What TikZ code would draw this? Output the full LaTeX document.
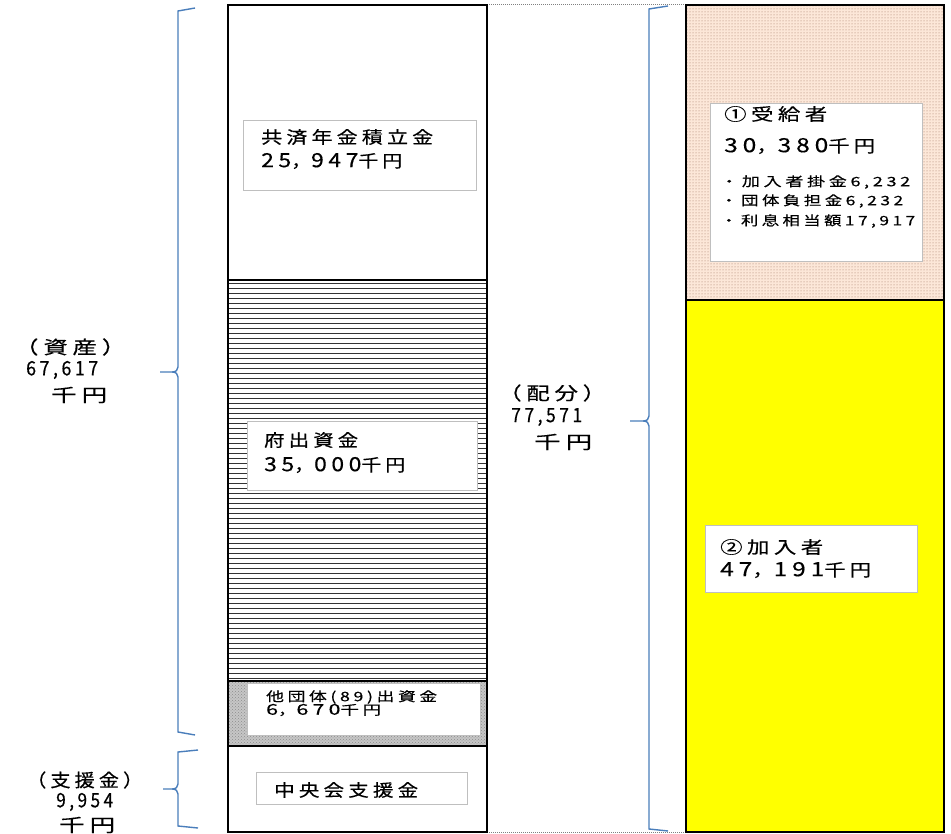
\documentclass[tikz,border=0pt]{standalone}
\usepackage{graphicx}
\usepackage{fontspec}
\setmainfont{Noto Sans CJK JP}
\newfontfamily\jp{Noto Sans CJK JP}[LetterSpace=20,FakeBold=0.4]
\usetikzlibrary{patterns}
\newcommand\myfit[2]{\resizebox{#1}{\height}{#2}}
\newcommand\dg[1]{\scalebox{1.15}{#1}}
\newcommand\dgl[1]{\scalebox{1.1}{#1}}
\definecolor{bracec}{RGB}{74,126,187}
\definecolor{peach}{RGB}{252,231,216}
\definecolor{dotc}{RGB}{160,115,95}
\definecolor{boxc}{RGB}{191,191,191}
\definecolor{yel}{RGB}{255,255,0}
\tikzset{
  colline/.style={draw=black, line width=2pt},
  tbox/.style={draw=boxc, fill=white, line width=1pt, anchor=north west, inner sep=0pt},
  txt/.style={anchor=west, inner sep=0pt, font=\jp\fontsize{17}{20}\selectfont},
  stxt/.style={anchor=west, inner sep=0pt, font=\jp\fontsize{13}{15}\selectfont},
  lbl/.style={anchor=west, inner sep=0pt, font=\jp\fontsize{18}{20}\selectfont},
  bracepath/.style={draw=bracec, line width=1.4pt},
}
\begin{document}
\begin{tikzpicture}[x=1pt,y=-1pt]
\useasboundingbox (0,0) rectangle (951,834);
\fill[white] (0,0) rectangle (951,834);
% outer dotted frame
\draw[gray, densely dotted, line width=1pt] (228,5) rectangle (944,832);
% left column: hatching
\foreach \yy in {283,288,...,678} \draw[line width=0.8pt, black!80] (228,\yy) -- (487,\yy);
% grey stippled band
\fill[gray!45] (228,681) rectangle (487,746);
\fill[pattern=crosshatch dots, pattern color=gray!90] (228,681) rectangle (487,746);
\draw[colline] (228,5) rectangle (487,832);
\draw[colline] (228,280) -- (487,280);
\draw[colline] (228,681) -- (487,681);
\draw[colline] (228,746) -- (487,746);
% right column
\fill[peach] (686,5) rectangle (944,300);
\fill[pattern=dots, pattern color=dotc] (686,5) rectangle (944,300);
\fill[yel] (686,300) rectangle (944,832);
\draw[colline] (686,5) rectangle (944,832);
\draw[colline] (686,300) -- (944,300);
% text boxes
\node[tbox, minimum width=233pt, minimum height=70pt] (b1) at (243,120) {};
\node[tbox, minimum width=230pt, minimum height=69pt] (b2) at (247,421) {};
\node[tbox, minimum width=233pt, minimum height=52pt] (b3) at (247,683) {};
\node[tbox, minimum width=211pt, minimum height=32pt] (b4) at (256,772) {};
\node[tbox, minimum width=212pt, minimum height=158pt] (b5) at (710,103) {};
\node[tbox, minimum width=212pt, minimum height=67pt] (b6) at (705,525) {};
% texts
\node[txt] (t1a) at (261,137) {\myfit{172pt}{共済年金積立金}};
\node[txt] (t1b) at (261,161) {\myfit{141pt}{\dg{25}，\dg{947}千円}};
\node[txt] (t2a) at (264,440) {\myfit{94pt}{府出資金}};
\node[txt] (t2b) at (264,465) {\myfit{141pt}{\dg{35}，\dg{000}千円}};
\node[stxt] (t3a) at (266,697) {\myfit{171pt}{他団体(89)出資金}};
\node[stxt] (t3b) at (266,710) {\myfit{115pt}{\dg{6}，\dg{670}千円}};
\node[txt] (t4) at (274,790) {\myfit{144pt}{中央会支援金}};
\node[txt] (t5a) at (724,114) {\myfit{103pt}{①受給者}};
\node[txt] (t5b) at (724,146) {\myfit{151pt}{\dg{30}，\dg{380}千円}};
\node[stxt] (t5c) at (720,182) {\myfit{190pt}{・加入者掛金6,232}};
\node[stxt] (t5d) at (720,201) {\myfit{183pt}{・団体負担金6,232}};
\node[stxt] (t5e) at (720,221) {\myfit{195pt}{・利息相当額17,917}};
\node[txt] (t6a) at (720,547) {\myfit{103pt}{②加入者}};
\node[txt] (t6b) at (720,570) {\myfit{151pt}{\dg{47}，\dg{191}千円}};
% labels
\node[lbl] (l1a) at (14,347) {\myfit{112pt}{（資産）}};
\node[lbl] (l1b) at (26,370) {\myfit{72pt}{\dgl{67,617}}};
\node[lbl] (l1c) at (51,395) {\myfit{56pt}{千円}};
\node[lbl] (l2a) at (498,393) {\myfit{108pt}{（配分）}};
\node[lbl] (l2b) at (511,417) {\myfit{71pt}{\dgl{77,571}}};
\node[lbl] (l2c) at (534,442) {\myfit{58pt}{千円}};
\node[lbl] (l3a) at (26,780) {\myfit{117pt}{（支援金）}};
\node[lbl] (l3b) at (56,802) {\myfit{57pt}{\dgl{9,954}}};
\node[lbl] (l3c) at (59,825) {\myfit{56pt}{千円}};
% braces
\draw[bracepath] (195,8) -- (178,11) -- (178,367) .. controls (178,370) and (176,372) .. (172,372) -- (160,372)
  (172,372) .. controls (176,372) and (178,374) .. (178,377) -- (178,732) -- (195,735);
\draw[bracepath] (198,750) -- (178,752) -- (178,784) .. controls (178,787) and (176,789) .. (172,789) -- (163,789)
  (172,789) .. controls (176,789) and (178,791) .. (178,794) -- (178,826) -- (198,828);
\draw[bracepath] (668,6) -- (649,9) -- (649,416) .. controls (649,419) and (647,421) .. (643,421) -- (630,421)
  (643,421) .. controls (647,421) and (649,423) .. (649,426) -- (649,829) -- (668,831);
\end{tikzpicture}
\end{document}
